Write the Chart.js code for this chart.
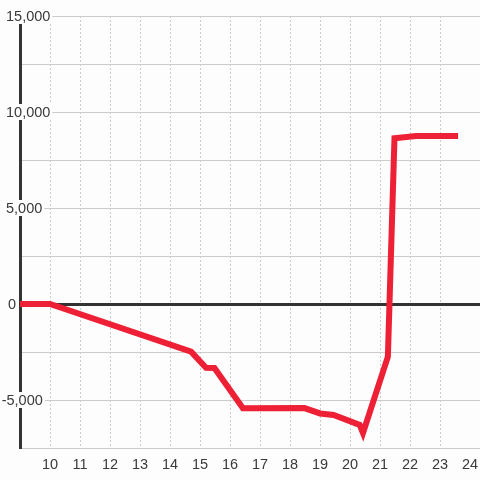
<!DOCTYPE html>
<html lang="en">
<head>
  <meta charset="UTF-8">
  <title>Line chart</title>
  <script src="https://cdn.jsdelivr.net/npm/chart.js"></script>
  <style>
    html, body { margin: 0; padding: 0; background: #fcfdfc; }
    #wrap { width: 480px; height: 480px; }
  </style>
</head>
<body>
<div id="wrap"><canvas id="chart"></canvas></div>
<script>
const hours  = [9, 10, 14.7, 15.2, 15.48, 16.43, 18.48, 19.0, 19.45, 20.32, 20.43, 21.26, 21.48, 22.2, 23.5];
const values = [0, 0, -2480, -3320, -3330, -5430, -5420, -5700, -5780, -6300, -6720, -2740, 8630, 8750, 8750];
const yLabels = [15000, 10000, 5000, 0, -5000];
const xLabels = [10, 11, 12, 13, 14, 15, 16, 17, 18, 19, 20, 21, 22, 23, 24];

const BG = '#fcfdfc';
const FONT = '14.5px "Liberation Sans", Arial, sans-serif';

const labelPlugin = {
  id: 'labels',
  afterDatasetsDraw(chart) {
    const ctx = chart.ctx;
    const y = chart.scales.y, x = chart.scales.x;
    ctx.save();
    ctx.font = FONT;
    ctx.textBaseline = 'middle';
    yLabels.forEach(v => {
      const txt = v.toLocaleString('en-US');
      const py = y.getPixelForValue(v);
      const w = ctx.measureText(txt).width;
      let px = 6;
      if (v < 0) px -= ctx.measureText('-').width - 0.5;
      if (v === 0) px = 8;
      ctx.fillStyle = BG;
      ctx.fillRect(px - 2, py - 8, w + 4, 16);
      ctx.fillStyle = '#3a3a3a';
      ctx.textAlign = 'left';
      ctx.fillText(txt, px, py + 1);
    });
    ctx.textAlign = 'center';
    ctx.fillStyle = '#3a3a3a';
    xLabels.forEach(h => {
      ctx.fillText(String(h), x.getPixelForValue(h), chart.chartArea.bottom + 17);
    });
    ctx.restore();
  }
};

new Chart(document.getElementById('chart'), {
  type: 'line',
  data: {
    datasets: [{
      data: hours.map((h, i) => ({ x: h, y: values[i] })),
      borderColor: '#ee2035',
      borderWidth: 6,
      borderCapStyle: 'square',
      borderJoinStyle: 'miter',
      pointRadius: 0,
      tension: 0,
      fill: false
    }]
  },
  options: {
    responsive: true,
    maintainAspectRatio: false,
    animation: false,
    layout: { padding: { left: 20, top: 16, right: 0, bottom: 32 } },
    plugins: { legend: { display: false }, tooltip: { enabled: false } },
    scales: {
      x: {
        type: 'linear',
        min: 9,
        max: 24.33,
        afterBuildTicks: s => { s.ticks = s.ticks.filter(t => Number.isInteger(t.value) && t.value > 9); },
        ticks: { display: false, stepSize: 1 },
        grid: { color: '#cccccc', lineWidth: 1, drawTicks: false },
        border: { display: false, dash: [2, 2] }
      },
      y: {
        min: -7500,
        max: 15000,
        ticks: { display: false, stepSize: 2500 },
        grid: {
          color: c => c.tick && c.tick.value === 0 ? '#333333' : '#cccccc',
          lineWidth: c => c.tick && c.tick.value === 0 ? 3 : 1,
          drawTicks: false
        },
        border: { display: true, color: '#333333', width: 3 }
      }
    }
  },
  plugins: [labelPlugin]
});
</script>
</body>
</html>
